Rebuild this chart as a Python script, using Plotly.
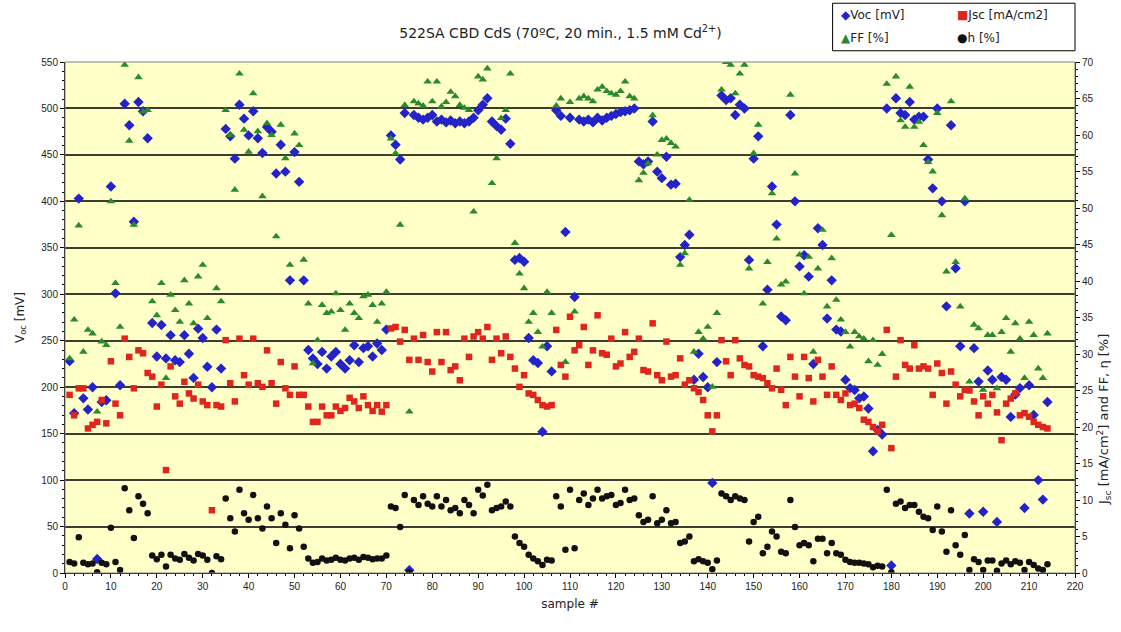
import plotly.graph_objects as go

# ---- measured data per sample -------------------------------------------
samples = list(range(1, 215))

voc_mv = [
    228, 172, 403, 188, 176, 200, 15, 184, 186, 416,
    301, 202, 505, 482, 378, 507, 497, 468, 269, 233,
    267, 231, 256, 229, 227, 256, 236, 210, 263, 253,
    222, 200, 262, 220, 478, 470, 446, 504, 489, 471,
    497, 468, 452, 480, 475, 430, 461, 432, 315, 453,
    421, 315, 240, 231, 225, 238, 220, 233, 238, 225,
    220, 229, 245, 227, 242, 244, 233, 247, 240, 262,
    471, 461, 445, 495, 3, 493, 490, 488, 490, 493,
    486, 488, 485, 487, 484, 486, 484, 486, 490, 498,
    504, 511, 486, 481, 477, 489, 462, 337, 339, 335,
    253, 229, 226, 152, 244, 217, 498, 492, 367, 490,
    297, 488, 486, 488, 485, 490, 487, 490, 492, 494,
    496, 497, 498, 500, 443, 440, 443, 486, 432, 425,
    448, 418, 419, 340, 353, 364, 208, 236, 211, 200,
    97, 227, 514, 509, 511, 493, 504, 500, 337, 446,
    470, 244, 305, 416, 375, 276, 272, 493, 400, 330,
    342, 319, 225, 371, 353, 274, 315, 262, 260, 208,
    199, 197, 188, 190, 177, 131, 154, 149, 500, 8,
    511, 495, 493, 507, 488, 491, 491, 445, 414, 500,
    400, 287, 482, 328, 244, 400, 64, 242, 206, 66,
    218, 208, 55, 211, 208, 168, 192, 199, 70, 202,
    170, 100, 79, 184,
]

jsc_ma_cm2 = [
    24.4, 21.6, 25.3, 25.3, 19.8, 20.3, 20.7, 23.7, 20.5, 29.0,
    23.2, 21.6, 32.1, 29.6, 25.3, 30.5, 30.1, 27.4, 26.9, 22.8,
    25.8, 14.1, 28.3, 24.2, 23.2, 26.2, 24.6, 23.9, 25.8, 23.5,
    23.0, 8.6, 23.0, 22.8, 31.9, 26.0, 23.5, 32.1, 27.1, 25.8,
    32.1, 26.0, 25.5, 30.5, 26.0, 23.2, 28.9, 25.3, 24.4, 28.3,
    24.4, 24.4, 22.8, 20.7, 20.7, 22.8, 21.6, 21.6, 22.8, 22.2,
    22.6, 24.0, 23.5, 22.6, 24.2, 23.0, 22.2, 23.0, 22.1, 23.0,
    33.5, 33.7, 31.7, 33.3, 29.2, 32.1, 29.2, 32.6, 28.9, 27.6,
    33.0, 28.9, 33.0, 27.8, 28.3, 26.4, 32.1, 29.6, 32.4, 33.0,
    32.1, 33.7, 29.2, 32.1, 30.1, 32.4, 29.6, 28.0, 25.5, 27.1,
    24.6, 24.4, 23.7, 23.0, 22.8, 23.0, 33.3, 28.5, 26.9, 35.1,
    30.5, 31.2, 33.7, 28.5, 30.5, 35.3, 30.1, 29.9, 32.1, 28.3,
    28.7, 33.0, 29.6, 30.3, 32.1, 27.8, 27.6, 34.2, 27.1, 26.4,
    31.7, 26.9, 27.1, 29.4, 25.8, 26.4, 25.3, 24.8, 23.7, 21.6,
    19.4, 21.6, 31.9, 29.0, 27.1, 31.9, 29.4, 28.5, 28.3, 27.1,
    26.9, 26.7, 26.0, 25.3, 28.0, 25.1, 23.0, 29.6, 26.9, 24.2,
    29.6, 26.7, 23.5, 29.2, 26.9, 24.4, 28.3, 24.4, 23.7, 24.6,
    23.0, 23.2, 22.6, 21.0, 20.7, 20.0, 19.4, 20.3, 33.3, 17.1,
    26.9, 31.9, 28.5, 28.0, 31.2, 28.0, 28.3, 28.0, 24.4, 28.7,
    27.4, 23.2, 27.6, 25.8, 24.2, 25.1, 25.0, 23.5, 21.6, 24.2,
    23.2, 24.4, 22.0, 18.2, 23.2, 23.9, 24.6, 21.6, 21.9, 21.4,
    20.7, 20.3, 20.0, 19.8,
]

ff_pct = [
    29.4, 34.7, 47.6, 30.3, 33.3, 32.8, 22.1, 31.7, 31.2, 50.9,
    39.7, 33.7, 69.6, 59.2, 47.7, 67.9, 63.2, 63.4, 37.2, 35.3,
    39.7, 26.7, 38.1, 36.0, 34.4, 40.1, 36.9, 34.2, 40.6, 42.2,
    34.9, 0.0, 39.0, 37.2, 63.4, 60.0, 52.5, 68.4, 60.7, 57.7,
    65.7, 60.5, 51.6, 61.6, 60.0, 46.1, 61.4, 56.8, 42.2, 60.2,
    58.6, 42.9, 36.9, 28.7, 31.9, 36.7, 35.6, 35.8, 38.3, 36.0,
    33.3, 36.9, 35.6, 34.9, 37.9, 38.1, 36.7, 34.4, 36.9, 38.5,
    59.5, 57.5, 47.7, 64.1, 22.1, 64.6, 64.3, 64.0, 67.3, 64.6,
    67.3, 63.9, 64.5, 65.9, 65.3, 64.1, 63.7, 63.4, 49.5, 68.0,
    67.6, 69.1, 53.4, 56.8, 62.3, 63.4, 68.4, 45.2, 41.0, 39.0,
    34.4, 35.6, 33.0, 31.0, 38.5, 35.6, 64.0, 65.0, 28.9, 64.5,
    35.8, 65.0, 65.3, 65.0, 64.6, 66.2, 66.6, 66.0, 65.7, 65.5,
    66.0, 67.3, 65.3, 65.0, 53.8, 54.8, 56.1, 62.7, 57.3, 59.3,
    59.5, 58.9, 58.4, 42.2, 43.8, 51.1, 30.3, 33.0, 32.1, 33.7,
    25.5, 35.6, 66.2, 70.0, 69.6, 65.7, 68.4, 69.6, 41.7, 57.5,
    61.4, 36.9, 42.6, 52.0, 45.8, 39.5, 39.9, 65.5, 54.7, 43.6,
    38.3, 43.3, 30.3, 41.7, 47.0, 36.5, 43.1, 37.4, 34.7, 33.0,
    31.0, 33.0, 32.4, 32.1, 29.0, 31.9, 28.5, 30.0, 67.0, 46.3,
    68.0, 62.0, 61.1, 66.6, 61.1, 61.8, 58.6, 56.3, 55.0, 63.0,
    49.0, 41.3, 64.6, 42.6, 36.5, 51.3, 26.2, 34.0, 33.5, 25.1,
    32.6, 32.6, 25.3, 33.0, 34.9, 30.3, 34.2, 32.1, 26.7, 34.4,
    32.6, 28.0, 26.7, 32.8,
]

eta_pct = [
    1.5, 1.3, 4.9, 1.4, 1.2, 1.3, 0.1, 1.4, 1.2, 6.2,
    1.5, 0.4, 11.6, 8.6, 4.8, 10.5, 9.5, 8.2, 2.4, 1.9,
    2.5, 0.9, 2.5, 2.0, 1.8, 2.6, 2.1, 1.7, 2.6, 2.4,
    1.8, 0.0, 2.3, 1.9, 10.2, 7.5, 5.7, 11.4, 8.2, 7.3,
    10.7, 7.5, 6.1, 9.1, 7.5, 4.1, 8.2, 6.6, 3.4, 7.9,
    6.1, 3.6, 2.0, 1.4, 1.5, 2.0, 1.7, 1.8, 2.1, 1.8,
    1.7, 2.0, 2.1, 1.8, 2.2, 2.1, 1.9, 2.0, 2.0, 2.4,
    9.1, 8.9, 6.3, 10.7, 0.1, 10.0, 9.3, 10.5, 9.5, 9.1,
    10.5, 9.1, 10.0, 8.6, 8.9, 8.2, 10.0, 9.3, 8.2, 11.4,
    10.6, 12.1, 8.6, 8.9, 9.1, 9.8, 9.1, 5.0, 4.1, 3.6,
    2.5, 2.0, 1.6, 1.1, 1.8, 1.7, 10.5, 9.1, 3.2, 11.4,
    3.4, 10.0, 10.9, 9.3, 10.2, 11.4, 10.2, 10.5, 10.7, 9.3,
    9.6, 11.4, 10.0, 10.2, 7.9, 7.0, 7.3, 10.5, 6.8, 7.3,
    8.6, 6.8, 7.0, 4.1, 4.3, 5.0, 1.6, 1.9, 1.6, 1.4,
    0.5, 1.7, 10.9, 10.5, 10.0, 10.5, 10.2, 10.0, 4.3, 7.0,
    7.7, 2.7, 3.6, 5.7, 5.0, 2.9, 2.7, 10.0, 6.3, 3.8,
    4.1, 3.8, 1.6, 4.7, 4.7, 2.7, 4.1, 2.7, 2.5, 1.8,
    1.5, 1.4, 1.4, 1.3, 1.2, 0.8, 1.0, 0.9, 11.4, 0.1,
    9.5, 9.8, 8.9, 9.3, 9.3, 8.4, 7.7, 7.5, 5.9, 9.1,
    5.7, 2.9, 8.6, 3.8, 2.5, 5.2, 0.4, 1.9, 1.5, 0.4,
    1.7, 1.7, 0.3, 1.3, 1.7, 1.2, 1.6, 1.4, 0.4, 1.5,
    1.1, 0.6, 0.4, 1.2,
]

series_names = ["Voc [mV]", "Jsc [mA/cm2]", "FF [%]", "h [%]"]
series_colors = ["#2323c8", "#e0261c", "#2b8a2b", "#111111"]
series_symbols = ["diamond", "square", "triangle-up", "circle"]
series_sizes = [8, 6.5, 7.5, 6.5]
legend_glyphs = ["\u25c6", "\u25a0", "\u25b2", "\u25cf"]

TICK_FONT = "Arial, Liberation Sans, sans-serif"
TEXT_FONT = "DejaVu Sans, Arial, sans-serif"

fig = go.Figure()
series_values = [voc_mv, jsc_ma_cm2, ff_pct, eta_pct]
series_axes = ["y", "y2", "y2", "y2"]
for vals, name, col, sym, size, ax in zip(series_values, series_names, series_colors,
                                           series_symbols, series_sizes, series_axes):
    fig.add_trace(go.Scatter(
        x=samples, y=vals, mode="markers", name=name, yaxis=ax,
        marker=dict(symbol=sym, size=size, color=col),
    ))

# legend box drawn as annotations (2 x 2 layout)
legend_pos = [(0.766, 1.092), (0.881, 1.092), (0.766, 1.046), (0.881, 1.046)]
annotations = []
for (lx, ly), name, col, glyph in zip(legend_pos, series_names, series_colors, legend_glyphs):
    annotations.append(dict(
        x=lx, y=ly, xref="paper", yref="paper", xanchor="left", yanchor="middle",
        showarrow=False,
        text=f"<span style='color:{col}'>{glyph}</span>{name}",
        font=dict(family=TEXT_FONT, size=12, color="#222222"),
    ))

# right-hand axis title
annotations.append(dict(
    x=1.028, y=0.30, xref="paper", yref="paper", xanchor="center", yanchor="middle",
    showarrow=False, textangle=-90,
    text="J<sub>sc</sub> [mA/cm<sup>2</sup>] and FF, \u03b7 [%]",
    font=dict(family=TEXT_FONT, size=13, color="#222222"),
))

shapes = [
    # legend frame
    dict(type="rect", xref="paper", yref="paper", x0=0.760, x1=1.0, y0=1.022, y1=1.115,
         line=dict(color="#000000", width=1), fillcolor="rgba(0,0,0,0)", layer="above"),
    # plot-area frame
    dict(type="rect", xref="paper", yref="paper", x0=0, x1=1, y0=0, y1=1,
         line=dict(color="#808080", width=1), fillcolor="rgba(0,0,0,0)", layer="above"),
]

fig.update_layout(
    width=1121, height=632,
    margin=dict(l=65, r=46, t=62, b=59),
    paper_bgcolor="#ffffff",
    plot_bgcolor="#ffffc8",
    showlegend=False,
    font=dict(family=TICK_FONT, size=10, color="#222222"),
    title=dict(
        text="522SA CBD CdS (70\u00baC, 20 min., 1.5 mM Cd<sup>2+</sup>)",
        x=0.5, xanchor="center", y=0.948, yanchor="middle",
        font=dict(family=TEXT_FONT, size=14, color="#222222"),
    ),
    xaxis=dict(
        range=[0, 220], tick0=0, dtick=10, ticks="outside", ticklen=4,
        tickcolor="#000000", showline=True, linecolor="#000000", linewidth=1,
        showgrid=False, zeroline=False,
        minor=dict(dtick=2, ticks="outside", ticklen=2, tickcolor="#000000"),
        tickfont=dict(size=10),
        title=dict(text="sample #", font=dict(family=TEXT_FONT, size=12), standoff=8),
    ),
    yaxis=dict(
        range=[0, 550], tick0=0, dtick=50, ticks="outside", ticklen=4,
        tickcolor="#000000", showline=True, linecolor="#000000", linewidth=1,
        showgrid=True, gridcolor="#3c3c32", gridwidth=1.5, zeroline=False,
        minor=dict(dtick=10, ticks="outside", ticklen=2, tickcolor="#000000", showgrid=False),
        tickfont=dict(size=10),
        title=dict(text="V<sub>oc</sub> [mV]", font=dict(family=TEXT_FONT, size=12), standoff=14),
    ),
    yaxis2=dict(
        range=[0, 70], tick0=0, dtick=5, overlaying="y", side="right",
        ticks="outside", ticklen=4, tickcolor="#000000",
        showline=True, linecolor="#000000", linewidth=1,
        showgrid=False, zeroline=False,
        minor=dict(dtick=1, ticks="outside", ticklen=2, tickcolor="#000000"),
        tickfont=dict(size=10),
    ),
    annotations=annotations,
    shapes=shapes,
)

fig.write_html("out.html", config={"displayModeBar": False})
